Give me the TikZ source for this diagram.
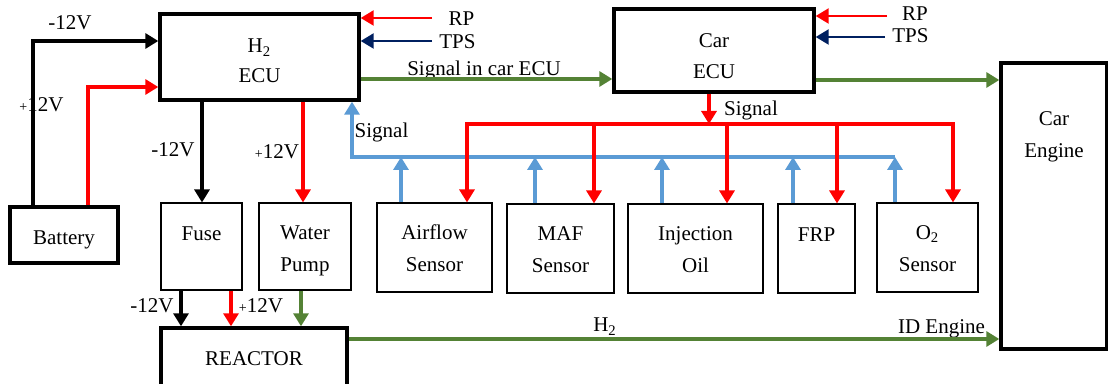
\documentclass[tikz,border=0pt]{standalone}
\usepackage{fontspec}
\setmainfont{Liberation Serif}
\usetikzlibrary{arrows.meta}
\definecolor{myred}{RGB}{255,0,0}
\definecolor{mynavy}{RGB}{0,32,96}
\definecolor{mygreen}{RGB}{84,130,53}
\definecolor{myblue}{RGB}{91,155,213}
\begin{document}
\begin{tikzpicture}[x=0.5pt,y=-0.5pt,
  every node/.style={font=\fontsize{10.5}{16}\selectfont},
  thickbox/.style={draw=black, line width=1.7pt, inner sep=0pt, align=center, text depth=0pt},
  thinbox/.style={draw=black, line width=0.55pt, inner sep=0pt, align=center, text depth=0pt},
  lbl/.style={inner sep=0pt, anchor=base},
  wire/.style={line width=1.6pt, -{Triangle[length=6.5pt,width=7.5pt]}},
  bus/.style={line width=1.6pt}
]
\clip (0,0) rectangle (1108,384);
\fill[white] (0,0) rectangle (1108,384);

% ---------- boxes ----------
\node[thickbox, minimum width=99.5pt, minimum height=43pt, font=\fontsize{10.5}{15}\selectfont] (h2ecu) at (259.5,57) {\rule{0pt}{11pt}H\textsubscript{2}\\ECU};
\node[thickbox, minimum width=100pt, minimum height=41.5pt, font=\fontsize{10.5}{15.5}\selectfont] (carecu) at (714,50.5) {\rule{0pt}{13pt}Car\\ECU};
\node[thickbox, minimum width=53pt, minimum height=143pt] (engine) at (1054,206) {};
\node[inner sep=0pt, align=center, text depth=0pt] (enginetxt) at (1054,135) {Car\\Engine};
\node[thickbox, minimum width=54pt, minimum height=28pt] (battery) at (64,235) {\rule{0pt}{10pt}Battery};
\node[thinbox, minimum width=40.5pt, minimum height=43.5pt] (fuse) at (201.5,246.5) {\rule{0pt}{10pt}Fuse\\\phantom{X}};
\node[thinbox, minimum width=46pt, minimum height=43.5pt] (pump) at (305,246.5) {\rule{0pt}{9pt}Water\\Pump};
\node[thickbox, minimum width=93pt, minimum height=34pt] (reactor) at (254,362) {};
\node[inner sep=0pt, text depth=0pt] (reactortxt) at (254,359) {REACTOR};
\node[thinbox, minimum width=57.5pt, minimum height=44.5pt] (airflow) at (434.5,247.5) {\rule{0pt}{8pt}Airflow\\Sensor};
\node[thinbox, minimum width=53.5pt, minimum height=44.5pt] (maf) at (560.5,248.5) {\rule{0pt}{8pt}MAF\\Sensor};
\node[thinbox, minimum width=67.5pt, minimum height=44.5pt] (inj) at (695.5,248.5) {\rule{0pt}{8pt}Injection\\Oil};
\node[thinbox, minimum width=38.5pt, minimum height=44.5pt] (frp) at (816.5,248.5) {\rule{0pt}{9pt}FRP\\\phantom{X}};
\node[thinbox, minimum width=50.5pt, minimum height=44.5pt] (otwo) at (927.5,247.5) {\rule{0pt}{8pt}O\textsubscript{2}\\Sensor};

% ---------- labels ----------
\node[lbl] (lm1) at (70,30) {-12V};
\node[lbl] (lp1) at (41.5,112) {{\fontsize{7}{8}\selectfont+}12V};
\node[lbl] (lm2) at (173,157) {-12V};
\node[lbl] (lp2) at (277,159) {{\fontsize{7}{8}\selectfont+}12V};
\node[lbl] (lm3) at (152,313) {-12V};
\node[lbl] (lp3) at (261,313) {{\fontsize{7}{8}\selectfont+}12V};
\node[lbl] (lsig1) at (381.5,138) {Signal};
\node[lbl] (lsig2) at (751,116) {Signal};
\node[lbl] (lsice) at (484,76) {Signal in car ECU};
\node[lbl] (lrp1) at (461.5,26) {RP};
\node[lbl] (ltps1) at (457.5,49) {TPS};
\node[lbl] (lrp2) at (915,21) {RP};
\node[lbl] (ltps2) at (910.5,43) {TPS};
\node[lbl] (lh2) at (605,332) {H\textsubscript{2}};
\node[lbl] (lid) at (941.5,334) {ID Engine};

% ---------- helper coordinates ----------
\coordinate (bm) at (33,41);
\coordinate (bp) at (88,87);
\coordinate (xa) at (202,0);
\coordinate (xb) at (303,0);
\coordinate (xc) at (181,0);
\coordinate (xd) at (231,0);
\coordinate (xe) at (301,0);
\coordinate (yh) at (0,339);
\coordinate (ys) at (0,79);
\coordinate (ye) at (0,80);
\coordinate (rp1) at (432,18);
\coordinate (tps1) at (432,41);
\coordinate (rp2) at (887,16);
\coordinate (tps2) at (885,37);
\coordinate (xsig) at (709,0);
\coordinate (rbus) at (0,124);
\coordinate (r1) at (467,0);
\coordinate (r2) at (594,0);
\coordinate (r3) at (727,0);
\coordinate (r4) at (837,0);
\coordinate (r5) at (953,0);
\coordinate (bbus) at (0,157);
\coordinate (b0) at (352,0);
\coordinate (b1) at (401,0);
\coordinate (b2) at (535,0);
\coordinate (b3) at (662,0);
\coordinate (b4) at (793,0);
\coordinate (b5) at (895,0);

% ---------- connectors ----------
% battery to H2 ECU
\draw[wire, black] (battery.north -| bm) -- (bm) -- (h2ecu.west |- bm);
\draw[wire, myred] (battery.north -| bp) -- (bp) -- (h2ecu.west |- bp);
% H2 ECU down
\draw[wire, black] (h2ecu.south -| xa) -- (fuse.north -| xa);
\draw[wire, myred] (h2ecu.south -| xb) -- (pump.north -| xb);
% to reactor
\draw[wire, black] (fuse.south -| xc) -- (reactor.north -| xc);
\draw[wire, myred] (fuse.south -| xd) -- (reactor.north -| xd);
\draw[wire, mygreen] (pump.south -| xe) -- (reactor.north -| xe);
% H2 line
\draw[wire, mygreen] (reactor.east |- yh) -- (engine.west |- yh);
% signal in car ECU
\draw[wire, mygreen] (h2ecu.east |- ys) -- (carecu.west |- ys);
\draw[wire, mygreen] (carecu.east |- ye) -- (engine.west |- ye);
% RP / TPS
\draw[wire, myred, line width=1.2pt] (rp1) -- (h2ecu.east |- rp1);
\draw[wire, mynavy, line width=1.2pt] (tps1) -- (h2ecu.east |- tps1);
\draw[wire, myred, line width=1.2pt] (rp2) -- (carecu.east |- rp2);
\draw[wire, mynavy, line width=1.2pt] (tps2) -- (carecu.east |- tps2);
% blue signal bus
\draw[wire, myblue] (b5 |- bbus) -- (b0 |- bbus) -- (h2ecu.south -| b0);
\draw[wire, myblue] (airflow.north -| b1) -- (b1 |- bbus);
\draw[wire, myblue] (maf.north -| b2) -- (b2 |- bbus);
\draw[wire, myblue] (inj.north -| b3) -- (b3 |- bbus);
\draw[wire, myblue] (frp.north -| b4) -- (b4 |- bbus);
\draw[wire, myblue] (otwo.north -| b5) -- (b5 |- bbus);
% red signal bus
\draw[wire, myred] (carecu.south -| xsig) -- (xsig |- rbus);
\draw[wire, myred, {Triangle[length=6.5pt,width=7.5pt]}-{Triangle[length=6.5pt,width=7.5pt]}] (airflow.north -| r1) -- (r1 |- rbus) -- (r5 |- rbus) -- (otwo.north -| r5);
\draw[wire, myred] (r2 |- rbus) -- (maf.north -| r2);
\draw[wire, myred] (r3 |- rbus) -- (inj.north -| r3);
\draw[wire, myred] (r4 |- rbus) -- (frp.north -| r4);
\end{tikzpicture}
\end{document}
